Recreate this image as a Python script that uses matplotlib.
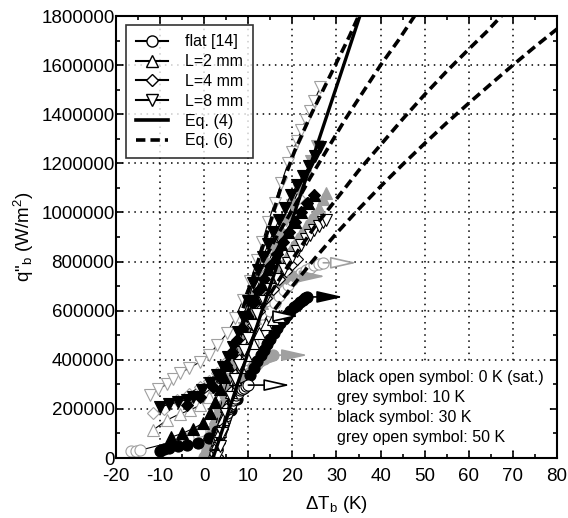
import matplotlib
matplotlib.use("Agg")
import matplotlib.pyplot as plt
from matplotlib.lines import Line2D
from matplotlib.patches import Rectangle

plt.rcParams['font.family'] = ['Liberation Sans', 'DejaVu Sans']
plt.rcParams['mathtext.default'] = 'regular'
plt.rcParams['axes.unicode_minus'] = False

# ---- 0 K (saturated): black open symbols
flat_0K_dT = [2.2, 2.4, 2.7, 3.0, 3.2, 3.4, 3.6, 3.8, 4.0, 4.2, 4.5, 4.7, 5.0, 5.2, 5.5, 5.8, 6.1, 6.5, 6.9, 7.3, 7.7, 8.2, 8.6, 9.0, 9.5, 10.0]
flat_0K_q = [5000, 20000, 40000, 60000, 72000, 85000, 98000, 110000, 122000, 135000, 148000, 160000, 172000, 185000, 198000, 210000, 222000, 235000, 245000, 255000, 265000, 275000, 281000, 287000, 292000, 297000]
L2_0K_dT = [2.5, 3.0, 3.6, 4.3, 5.0, 6.0, 7.0, 8.2, 9.5, 11.0, 12.5, 14.0, 15.5, 17.0]
L2_0K_q = [10000, 60000, 110000, 160000, 210000, 270000, 320000, 370000, 420000, 470000, 510000, 545000, 565000, 578000]
L4_0K_dT = [2.8, 3.3, 4.0, 5.0, 6.0, 7.0, 8.0, 9.5, 11.0, 12.5, 14.0, 15.5, 17.0, 18.5, 20.0, 21.0]
L4_0K_q = [10000, 60000, 120000, 200000, 270000, 340000, 400000, 470000, 540000, 600000, 650000, 690000, 730000, 760000, 790000, 810000]
L8_0K_dT = [3.0, 3.5, 4.0, 5.0, 6.0, 7.0, 8.0, 9.0, 10.0, 11.0, 12.0, 13.5, 15.0, 16.5, 18.0, 19.0, 20.0, 21.0, 22.0, 23.0, 24.0, 25.0, 26.0, 27.0, 27.7]
L8_0K_q = [10000, 50000, 100000, 180000, 250000, 320000, 380000, 440000, 490000, 540000, 585000, 640000, 690000, 730000, 770000, 795000, 820000, 845000, 868000, 890000, 910000, 928000, 945000, 960000, 970000]

# ---- 10 K: grey symbols
flat_10K_dT = [0.0, 0.3, 0.6, 1.0, 1.3, 1.6, 2.0, 2.5, 3.0, 3.6, 4.3, 5.0, 5.8, 6.6, 7.4, 8.3, 9.2, 10.1, 11.1, 11.9, 12.7, 13.5, 14.2, 14.9, 15.6]
flat_10K_q = [5000, 18000, 33000, 55000, 75000, 92000, 115000, 140000, 165000, 188000, 208000, 227000, 245000, 261000, 277000, 300000, 325000, 348000, 370000, 383000, 395000, 404000, 411000, 416000, 419000]
L2_10K_dT = [1.0, 1.5, 2.2, 3.0, 4.0, 5.0, 6.0, 7.2, 8.5, 10.0, 11.5, 13.0, 14.5, 16.0, 17.5, 19.0, 20.0, 21.0, 22.0, 23.0, 24.0, 25.0, 26.0, 27.0, 27.7]
L2_10K_q = [5000, 50000, 100000, 150000, 210000, 270000, 330000, 390000, 450000, 510000, 570000, 630000, 680000, 730000, 780000, 830000, 860000, 890000, 918000, 945000, 970000, 995000, 1020000, 1055000, 1080000]
L4_10K_dT = [1.2, 2.0, 3.0, 4.0, 5.0, 6.5, 8.0, 9.5, 11.0, 12.5, 14.0, 15.5, 17.0, 18.5, 20.0]
L4_10K_q = [5000, 80000, 150000, 220000, 290000, 370000, 440000, 500000, 560000, 610000, 650000, 690000, 715000, 735000, 745000]
L8_10K_dT = [1.0, 1.6, 2.4, 3.3, 4.3, 5.4, 6.6, 7.8, 9.0, 10.3, 11.6, 13.0, 14.4, 15.8, 17.2, 18.6, 20.0, 21.4, 22.8, 24.2, 25.6]
L8_10K_q = [5000, 60000, 120000, 180000, 250000, 320000, 390000, 460000, 530000, 600000, 660000, 720000, 790000, 850000, 910000, 970000, 1030000, 1090000, 1150000, 1210000, 1270000]

# ---- 30 K: black symbols
flat_30K_dT = [-10.0, -9.0, -8.0, -6.0, -4.0, -1.5, 1.0, 3.0, 4.5, 6.0, 7.5, 9.0, 10.5, 11.3, 12.0, 12.8, 13.5, 14.3, 15.0, 15.8, 16.5, 17.3, 18.0, 18.8, 19.5, 20.3, 21.0, 21.7, 22.3, 22.8, 23.3]
flat_30K_q = [30000, 35000, 42000, 48000, 55000, 63000, 80000, 110000, 150000, 195000, 240000, 290000, 340000, 368000, 395000, 418000, 440000, 463000, 485000, 508000, 530000, 548000, 565000, 583000, 600000, 613000, 625000, 636000, 645000, 651000, 656000]
L2_30K_dT = [-7.5, -5.0, -2.5, -0.3, 1.3, 2.5, 3.5, 4.5, 5.5, 6.5, 7.5, 8.7, 10.0, 11.5, 13.0, 14.5, 16.0, 17.5, 19.0, 20.5, 22.0, 23.5, 25.0]
L2_30K_q = [85000, 100000, 120000, 142000, 183000, 230000, 280000, 330000, 380000, 430000, 480000, 530000, 590000, 650000, 710000, 770000, 820000, 870000, 920000, 960000, 1000000, 1040000, 1070000]
L4_30K_dT = [-4.0, -1.0, 2.0, 3.5, 5.0, 6.2, 7.4, 8.6, 9.8, 11.0, 12.3, 13.6, 15.0, 16.4, 17.8, 19.2, 20.6, 22.0, 23.4, 24.8]
L4_30K_q = [215000, 248000, 289000, 330000, 380000, 430000, 480000, 530000, 580000, 630000, 680000, 730000, 780000, 830000, 880000, 920000, 960000, 1000000, 1040000, 1070000]
L8_30K_dT = [-10.0, -8.0, -6.0, -4.0, -2.5, -0.5, 1.3, 3.0, 4.3, 5.5, 6.5, 7.7, 8.8, 10.0, 11.1, 12.2, 13.3, 14.5, 15.7, 17.0, 18.3, 19.6, 21.0, 22.4, 23.8, 25.1, 26.3]
L8_30K_q = [208000, 218000, 228000, 238000, 248000, 275000, 305000, 340000, 370000, 410000, 452000, 512000, 574000, 640000, 712000, 765000, 818000, 870000, 920000, 970000, 1020000, 1070000, 1110000, 1150000, 1190000, 1230000, 1265000]

# ---- 50 K: grey open symbols
flat_50K_dT = [-16.5, -15.5, -14.5, -3.7, -1.0, 1.0, 3.0, 5.0, 7.0, 9.0, 11.0, 13.0, 15.0, 16.0, 17.0, 18.0, 19.0, 20.0, 21.0, 22.0, 23.0, 24.0, 25.0, 26.0, 27.0]
flat_50K_q = [30000, 30000, 32000, 81000, 110000, 150000, 200000, 260000, 330000, 400000, 470000, 540000, 600000, 630000, 660000, 683000, 705000, 723000, 740000, 753000, 765000, 775000, 785000, 790000, 795000]
L2_50K_dT = [-11.6, -8.4, -5.5, -3.2, -1.0, 1.0, 2.5, 4.0, 5.5, 7.0, 8.5, 10.0, 11.5, 13.0, 14.5, 16.0, 17.5]
L2_50K_q = [114000, 155000, 180000, 195000, 215000, 250000, 290000, 340000, 400000, 460000, 530000, 600000, 670000, 740000, 800000, 860000, 910000]
L4_50K_dT = [-11.6, -9.0, -6.2, -3.5, -1.0, 1.0, 2.9, 4.8, 6.5, 8.0, 9.5, 11.0, 12.5, 14.0, 15.5, 17.0, 18.5, 20.0, 21.5]
L4_50K_q = [183000, 200000, 236000, 262000, 289000, 315000, 346000, 385000, 427000, 480000, 540000, 610000, 680000, 750000, 820000, 890000, 950000, 1010000, 1060000]
L8_50K_dT = [-12.3, -10.5, -8.5, -7.0, -5.5, -3.5, -1.0, 1.0, 3.0, 5.2, 7.0, 8.8, 10.5, 12.0, 13.2, 14.5, 16.0, 17.5, 19.0, 20.0, 21.0, 22.0, 23.0, 24.0, 25.0, 26.3]
L8_50K_q = [256000, 280000, 300000, 320000, 346000, 365000, 391000, 420000, 460000, 509000, 570000, 643000, 720000, 806000, 880000, 960000, 1040000, 1120000, 1200000, 1245000, 1290000, 1335000, 1375000, 1415000, 1455000, 1510000]

# arrows at the end of the curves (start dT, end dT, q)
arrow_start_dT = [10.0, 15.6, 23.3, 27.0, 17.0, 19.0]
arrow_end_dT = [19.5, 23.5, 31.5, 34.6, 21.5, 27.5]
arrow_q = [297000, 419000, 656000, 795000, 578000, 740000]

# correlations
eq4_dT = [2.0, 12.0, 22.0, 32.0, 35.3]
eq4_q = [0, 540000, 1080000, 1620000, 1800000]
eq6a_dT = [8.8, 10.4, 14.0, 17.2, 20.5, 24.0, 27.0, 30.0, 33.0, 35.0]
eq6a_q = [610000, 700000, 900000, 1090000, 1250000, 1390000, 1500000, 1610000, 1720000, 1800000]
eq6b_dT = [14.0, 17.0, 20.0, 24.0, 28.0, 32.0, 36.0, 40.0, 44.0, 47.7]
eq6b_q = [820000, 920000, 1010000, 1140000, 1260000, 1380000, 1490000, 1600000, 1700000, 1800000]
eq6c_dT = [15.0, 20.0, 25.0, 30.0, 35.0, 40.0, 45.0, 50.0, 55.0, 60.0, 64.0, 67.4]
eq6c_q = [670000, 810000, 940000, 1055000, 1170000, 1275000, 1380000, 1480000, 1575000, 1665000, 1735000, 1800000]
eq6d_dT = [16.0, 20.0, 25.0, 30.0, 35.0, 40.0, 45.0, 50.0, 55.0, 60.0, 65.0, 70.0, 75.0, 80.0]
eq6d_q = [606000, 700000, 811000, 915000, 1013000, 1106000, 1195000, 1281000, 1365000, 1445000, 1523000, 1600000, 1675000, 1747000]

grey = '#a0a0a0'

fig = plt.figure(figsize=(5.68, 5.18), dpi=100)
ax = fig.add_axes([0.2042, 0.1158, 0.7764, 0.8533])


def draw(dT, q, marker, face, edge, ms=8):
    ax.plot(dT, q, color='black', lw=0.8, marker=marker, ms=ms,
            mfc=face, mec=edge, mew=0.8, zorder=2)


def arrow(i, face, edge):
    ax.annotate('', xy=(arrow_end_dT[i], arrow_q[i]), xytext=(arrow_start_dT[i], arrow_q[i]),
                arrowprops=dict(arrowstyle='-|>,head_length=0.8,head_width=0.18', mutation_scale=20,
                                fc=face, ec=edge, lw=1.2, shrinkA=0, shrinkB=0), zorder=3)


# 50 K
draw(flat_50K_dT, flat_50K_q, 'o', 'white', grey, 8)
draw(L2_50K_dT, L2_50K_q, '^', 'white', grey)
draw(L4_50K_dT, L4_50K_q, 'D', 'white', grey, 6.5)
draw(L8_50K_dT, L8_50K_q, 'v', 'white', grey)
arrow(3, 'white', grey)
# 10 K
draw(flat_10K_dT, flat_10K_q, 'o', grey, grey, 8)
draw(L2_10K_dT, L2_10K_q, '^', grey, grey)
draw(L4_10K_dT, L4_10K_q, 'D', grey, grey, 6.5)
draw(L8_10K_dT, L8_10K_q, 'v', grey, grey)
arrow(1, grey, grey)
arrow(5, grey, grey)
# 30 K
draw(flat_30K_dT, flat_30K_q, 'o', 'black', 'black', 8)
draw(L2_30K_dT, L2_30K_q, '^', 'black', 'black')
draw(L4_30K_dT, L4_30K_q, 'D', 'black', 'black', 6.5)
draw(L8_30K_dT, L8_30K_q, 'v', 'black', 'black')
arrow(2, 'black', 'black')
# 0 K
draw(flat_0K_dT, flat_0K_q, 'o', 'white', 'black', 8)
draw(L2_0K_dT, L2_0K_q, '^', 'white', 'black')
draw(L4_0K_dT, L4_0K_q, 'D', 'white', 'black', 6.5)
draw(L8_0K_dT, L8_0K_q, 'v', 'white', 'black')
arrow(0, 'white', 'black')
arrow(4, 'white', 'black')

# correlations
dash = (0, (2.6, 1.4))
ax.plot(eq4_dT, eq4_q, color='black', lw=2.4, zorder=4)
for x, y in [(eq6a_dT, eq6a_q), (eq6b_dT, eq6b_q), (eq6c_dT, eq6c_q), (eq6d_dT, eq6d_q)]:
    ax.plot(x, y, color='black', lw=2.6, ls=dash, zorder=4)

ax.set_xlim(-20, 80)
ax.set_ylim(0, 1800000)
ax.set_xticks(range(-20, 81, 10))
ax.set_xticks(range(-15, 80, 10), minor=True)
yt = list(range(0, 1800001, 200000))
ax.set_yticks(yt)
ax.set_yticklabels([str(v) for v in yt])
ax.set_yticks(range(100000, 1800000, 200000), minor=True)
ax.tick_params(which='both', direction='in', top=True, right=True, width=1.2, labelsize=13.5)
ax.tick_params(which='major', length=5)
ax.tick_params(which='minor', length=3)
ax.tick_params(axis='y', pad=1)
ax.tick_params(axis='x', pad=7)
for s in ax.spines.values():
    s.set_linewidth(1.5)
ax.set_axisbelow(True)
ax.grid(True, which='major', color='black', lw=1.1, ls=(0, (1, 3)))

ax.set_xlabel(r'$\Delta T_b$ (K)', fontsize=13.5, labelpad=7)
ax.set_ylabel(r'q"$_b$ (W/m$^2$)', fontsize=13.5, labelpad=4)

# explanation text on a white patch
ax.add_patch(Rectangle((0.492, 0.018), 0.49, 0.195, transform=ax.transAxes,
                       fc='white', ec='none', zorder=1))
notes = ['black open symbol: 0 K (sat.)', 'grey symbol: 10 K',
         'black symbol: 30 K', 'grey open symbol: 50 K']
for i, t in enumerate(notes):
    ax.text(0.501, 0.183 - i * 0.0453, t, transform=ax.transAxes, fontsize=11.5,
            va='center', ha='left', zorder=5)

handles = [
    Line2D([], [], color='black', lw=1.5, marker='o', ms=8, mfc='white', mec='black'),
    Line2D([], [], color='black', lw=1.5, marker='^', ms=8, mfc='white', mec='black'),
    Line2D([], [], color='black', lw=1.5, marker='D', ms=6.5, mfc='white', mec='black'),
    Line2D([], [], color='black', lw=1.5, marker='v', ms=8, mfc='white', mec='black'),
    Line2D([], [], color='black', lw=2.6),
    Line2D([], [], color='black', lw=2.6, ls=dash),
]
labels = ['flat [14]', 'L=2 mm', 'L=4 mm', 'L=8 mm', 'Eq. (4)', 'Eq. (6)']
leg = ax.legend(handles, labels, loc='upper left', bbox_to_anchor=(0.023, 0.98),
                borderaxespad=0, fontsize=11.5, frameon=True, fancybox=False,
                edgecolor='black', handlelength=2.0, handletextpad=1.1,
                labelspacing=0.3, borderpad=0.6)
leg.get_frame().set_linewidth(1.2)
leg.set_zorder(6)

plt.savefig('out.png', dpi=100)
